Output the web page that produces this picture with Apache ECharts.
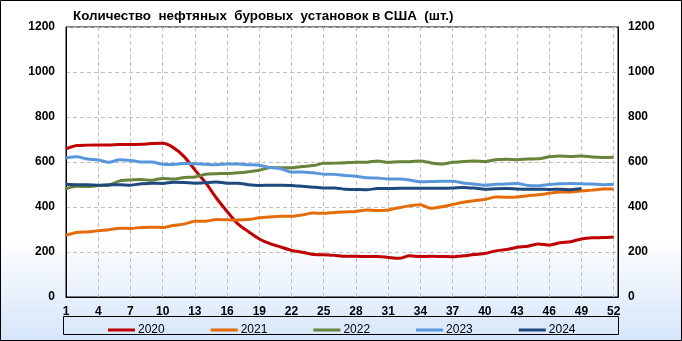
<!DOCTYPE html>
<html>
<head>
<meta charset="utf-8">
<script src="https://cdn.jsdelivr.net/npm/echarts@6/dist/echarts.min.js"></script>
<style>
html, body { margin: 0; padding: 0; background: #fff; }
#chart { width: 682px; height: 341px; }
</style>
</head>
<body>
<div id="chart"></div>
<script>
// недели 1..52
var weeks = [];
for (var i = 1; i <= 52; i++) weeks.push(i);

var years = ['2020', '2021', '2022', '2023', '2024'];
var colors = ['#C00000', '#E46C0A', '#66843A', '#5A96DA', '#1F497D'];

var y2020 = [659, 673, 675, 676, 676, 678, 678, 679, 682, 683, 664, 624, 565, 508, 440, 380, 325, 290, 258, 237, 222, 207, 199, 189, 188, 185,
	181, 181, 180, 180, 176, 172, 183, 180, 181, 180, 179, 183, 189, 193, 205, 211, 221, 226, 236, 231, 241, 246, 258, 263, 264, 267];
var y2021 = [275, 287, 289, 295, 299, 306, 305, 309, 310, 309, 318, 324, 337, 337, 344, 343, 342, 344, 352, 356, 359, 359, 365, 373, 372, 376,
	378, 380, 387, 385, 387, 397, 405, 410, 394, 401, 411, 421, 428, 433, 445, 443, 444, 450, 454, 461, 467, 467, 471, 475, 480, 480];
var y2022 = [481, 492, 491, 495, 497, 516, 520, 522, 519, 527, 524, 531, 533, 546, 548, 549, 552, 557, 563, 576, 574, 574, 580, 584, 594, 595,
	597, 599, 599, 605, 598, 601, 601, 605, 596, 591, 599, 602, 604, 602, 610, 612, 610, 613, 614, 623, 627, 625, 627, 622, 620, 621];
var y2023 = [618, 623, 613, 609, 599, 610, 607, 600, 600, 590, 589, 593, 592, 590, 588, 591, 591, 588, 586, 575, 570, 555, 556, 552, 546, 545,
	540, 537, 530, 529, 525, 525, 520, 512, 513, 515, 515, 507, 502, 497, 501, 502, 504, 496, 494, 500, 503, 505, 503, 502, 499, 501];
var y2024 = [501, 499, 499, 497, 499, 499, 497, 503, 506, 505, 510, 509, 506, 508, 511, 506, 506, 499, 496, 497, 497, 496, 492, 488, 485, 485,
	479, 478, 477, 482, 482, 483, 483, 483, 483, 483, 484, 487, 484, 479, 481, 482, 480, 479, 479, 478, 479, 477, 482];

var yTicks = [0, 200, 400, 600, 800, 1000, 1200];

var values = [y2020, y2021, y2022, y2023, y2024];

function pairs(arr){
	var out = [];
	for (var i = 0; i < arr.length; i++) out.push([weeks[i], arr[i]]);
	return out;
}

var labelFont = { fontFamily: 'Liberation Sans', fontWeight: 'bold', fontSize: 12, color: '#000' };
var dashed = { show: true, lineStyle: { color: '#BFBFBF', type: [4, 3], width: 1 } };
var plain = function(v){ return String(v); };

var myChart = echarts.init(document.getElementById('chart'));
var series = [];
for (var k = 0; k < years.length; k++) {
	series.push({
		name: years[k],
		type: 'line',
		data: pairs(values[k]),
		showSymbol: false,
		smooth: 0.25,
		lineStyle: { width: 3, color: colors[k] },
		itemStyle: { color: colors[k] },
		z: 3 + k
	});
}

var option = {
	animation: false,
	backgroundColor: {
		type: 'linear', x: 0, y: 0, x2: 0, y2: 1,
		colorStops: [
			{ offset: 0, color: '#FFFFFF' },
			{ offset: 0.7, color: '#FFFFFF' },
			{ offset: 1, color: '#D5E5FA' }
		]
	},
	title: {
		text: 'Количество  нефтяных  буровых  установок в США  (шт.)',
		left: 68,
		top: 5,
		textStyle: { fontFamily: 'Liberation Sans', fontWeight: 'bold', fontSize: 13.4, color: '#000' }
	},
	grid: {
		left: 66, right: 64, top: 27, bottom: 44,
		show: true, borderColor: '#000', borderWidth: 1, backgroundColor: 'transparent'
	},
	legend: {
		data: years,
		left: 103,
		top: 319,
		icon: 'rect',
		itemWidth: 27,
		itemHeight: 3,
		itemGap: 46,
		textStyle: { fontFamily: 'Liberation Sans', fontSize: 12, color: '#000', padding: [0, 0, 0, -2] }
	},
	xAxis: {
		type: 'value',
		min: 1,
		max: 52.4,
		interval: 3,
		axisLine: { show: true, lineStyle: { color: '#000' } },
		axisTick: { show: false },
		axisLabel: Object.assign({
			margin: 9,
			formatter: function(v){ return v % 1 === 0 ? String(v) : ''; }
		}, labelFont),
		splitLine: dashed
	},
	yAxis: [
		{
			type: 'value', min: yTicks[0], max: yTicks[yTicks.length - 1], interval: 200,
			axisLine: { show: true, lineStyle: { color: '#000' } },
			axisTick: { show: false },
			axisLabel: Object.assign({ margin: 11, formatter: plain }, labelFont),
			splitLine: dashed
		},
		{
			type: 'value', min: yTicks[0], max: yTicks[yTicks.length - 1], interval: 200,
			position: 'right',
			axisLine: { show: true, lineStyle: { color: '#000' } },
			axisTick: { show: false },
			axisLabel: Object.assign({ margin: 10, formatter: plain }, labelFont),
			splitLine: { show: false }
		}
	],
	graphic: [
		{
			type: 'rect', silent: true,
			shape: { x: 0.5, y: 0.5, width: 681, height: 340 },
			style: { fill: 'none', stroke: '#000', lineWidth: 1 }
		},
		{
			type: 'rect', silent: true,
			shape: { x: 63.5, y: 316.5, width: 555, height: 18 },
			style: { fill: 'none', stroke: '#000', lineWidth: 1 }
		}
	],
	series: series
};
myChart.setOption(option);
</script>
</body>
</html>
